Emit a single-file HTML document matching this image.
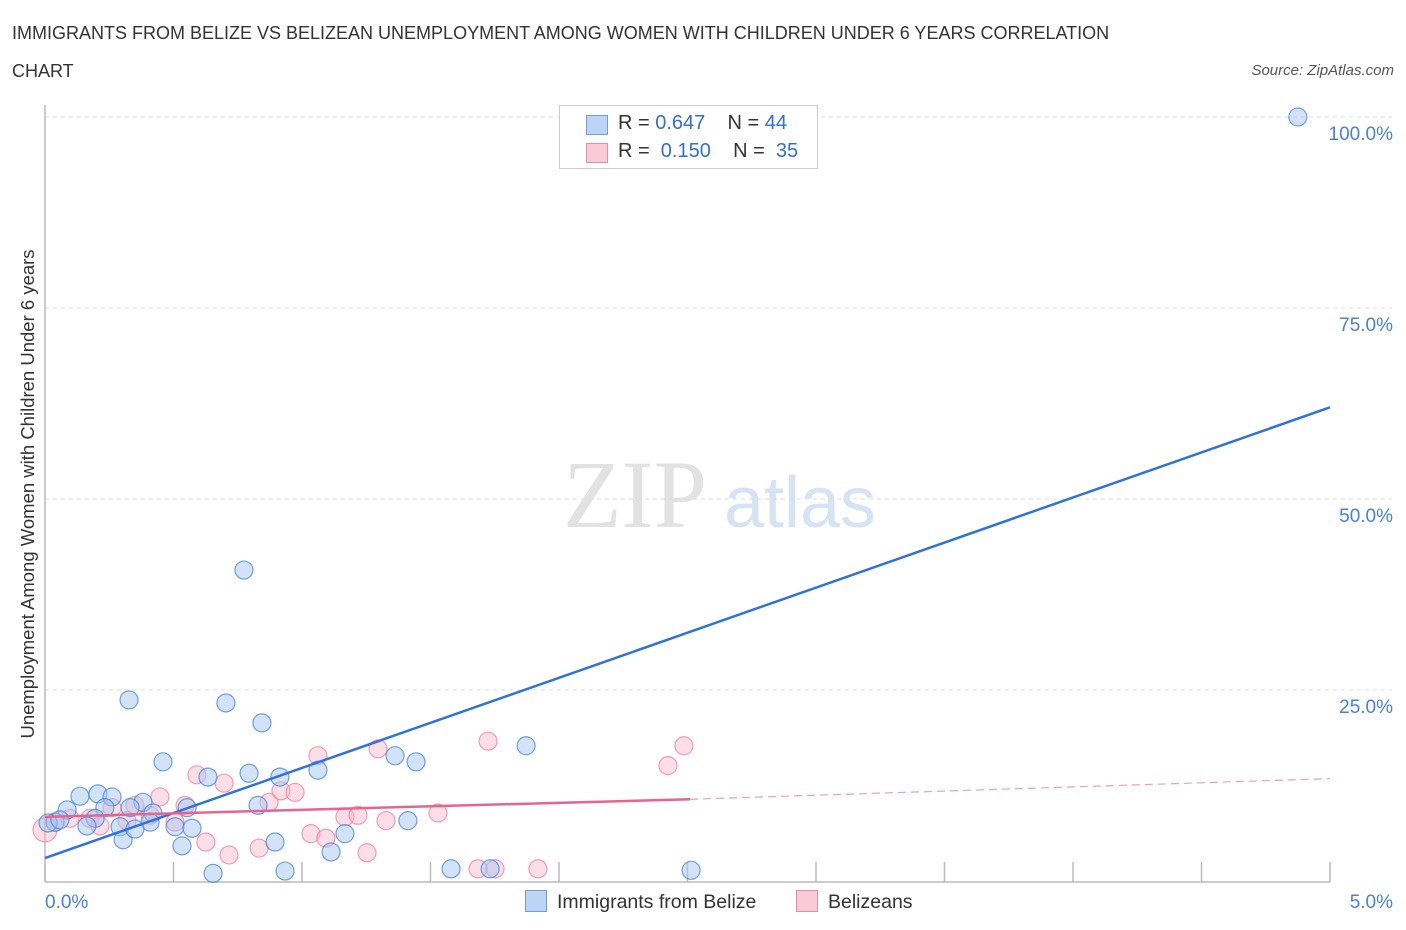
<!DOCTYPE html>
<html><head><meta charset="utf-8">
<style>
body{margin:0;background:#fff;font-family:"Liberation Sans",sans-serif;}
#wrap{position:relative;width:1406px;height:930px;overflow:hidden;}
.t{position:absolute;white-space:nowrap;}
</style></head><body>
<div id="wrap">
<div class="t" style="left:12px;top:14px;font-size:18px;color:#333;line-height:38px;width:1140px;white-space:normal">IMMIGRANTS FROM BELIZE VS BELIZEAN UNEMPLOYMENT AMONG WOMEN WITH CHILDREN UNDER 6 YEARS CORRELATION CHART</div>
<div class="t" style="right:12px;top:62px;font-size:15px;color:#555;font-style:italic">Source: ZipAtlas.com</div>
<svg id="svg" width="1406" height="930" style="position:absolute;left:0;top:0"></svg>
</div>
<script>
const xTicks=[0,0.5,1,1.5,2,2.5,3,3.5,4,4.5,5];
const yTicks=[25,50,75,100];
const yTickLabels=["25.0%","50.0%","75.0%","100.0%"];
const blueX=[4.875,0.774,0.327,0.704,0.844,0.459,0.634,0.794,0.914,1.062,1.362,1.444,1.872,0.206,0.261,0.381,0.086,0.136,0.233,0.420,0.331,0.553,0.829,0.195,0.039,0.163,0.292,0.409,0.506,0.572,1.167,1.412,0.304,0.533,0.895,1.113,0.350,0.654,0.934,1.580,1.732,2.514,0.012,0.058];
const blueY=[100,40.7,23.7,23.3,20.7,15.6,13.6,14.1,13.6,14.5,16.4,15.6,17.7,11.4,11.0,10.3,9.3,11.1,9.6,8.9,9.6,9.6,9.9,8.2,7.7,7.2,7.1,7.7,7.1,6.9,6.2,7.9,5.4,4.6,5.1,3.8,6.8,1.0,1.3,1.6,1.6,1.4,7.6,8.0];
const pinkX=[0,0.039,0.097,0.175,0.261,0.350,0.447,0.545,0.591,0.697,0.872,0.918,0.973,1.062,1.296,1.724,2.486,2.424,1.167,1.218,1.529,1.035,1.093,1.327,0.626,0.716,0.833,1.253,1.685,1.751,1.918,0.214,0.319,0.506,0.409];
const pinkY=[6.7,7.7,8.2,8.2,9.6,9.9,11.0,9.9,13.9,12.8,10.3,11.8,11.6,16.4,17.3,18.3,17.7,15.1,8.4,8.6,8.9,6.2,5.6,7.9,5.1,3.4,4.3,3.7,1.6,1.6,1.6,7.2,7.9,7.7,8.6];
const blueLine=[3.0,62.0];
const pinkLine=[8.4,10.7,13.4];
const pinkSolidEnd=2.51;

const X0=45,X1=1330,Y0=881,Y100=117;
const sx=v=>X0+(v/5)*(X1-X0);
const sy=v=>Y0-(v/100)*(Y0-Y100);
const svg=document.getElementById('svg');
const NS='http://www.w3.org/2000/svg';
function mk(tag,attrs,parent){const e=document.createElementNS(NS,tag);for(const k in attrs)e.setAttribute(k,attrs[k]);(parent||svg).appendChild(e);return e;}

let w=mk('text',{x:635,y:527,'font-size':96,'font-family':'Liberation Serif,serif',fill:'#e2e2e2','text-anchor':'middle'});
w.textContent='ZIP';


let w2=mk('text',{x:800,y:527,'font-size':72,'font-family':'Liberation Sans,sans-serif',fill:'#d6e3f5','text-anchor':'middle'});
w2.textContent='atlas';



yTicks.forEach((v,i)=>{
  const g=mk('line',{x1:X0,x2:1392,y1:sy(v),y2:sy(v),stroke:'#dddddd','stroke-dasharray':'4,4'});
  
  
  const t=mk('text',{x:1393,y:sy(v)+23,'font-size':19,fill:'#4a80d8','text-anchor':'end','font-family':'Liberation Sans,sans-serif'});
  t.textContent=yTickLabels[i];
  
  
});
let ax=mk('line',{x1:X0,x2:X0,y1:105,y2:882,stroke:'#bbb','stroke-width':1.5});


let bx=mk('line',{x1:X0,x2:X1,y1:882,y2:882,stroke:'#bbb','stroke-width':1.5});


xTicks.forEach(v=>{
  const l=mk('line',{x1:sx(v),x2:sx(v),y1:862,y2:882,stroke:'#bbb','stroke-width':1.5});
  
  
});
[["0.0%",45,'start'],["5.0%",1393,'end']].forEach(a=>{
  const t=mk('text',{x:a[1],y:908,'font-size':19,fill:'#4a80d8','text-anchor':a[2],'font-family':'Liberation Sans,sans-serif'});
  t.textContent=a[0];
  
  
});
let yt=mk('text',{x:0,y:0,'font-size':18.5,fill:'#333','text-anchor':'middle','font-family':'Liberation Sans,sans-serif',transform:'translate(34,494) rotate(-90)'});
yt.textContent='Unemployment Among Women with Children Under 6 years';



pinkX.forEach((x,i)=>{
  const c=mk('circle',{cx:sx(x),cy:sy(pinkY[i]),r:i===0?12:9,fill:'rgba(248,182,202,0.45)',stroke:'rgba(236,120,155,0.7)','stroke-width':1.2});
  
  
});
blueX.forEach((x,i)=>{
  const c=mk('circle',{cx:sx(x),cy:sy(blueY[i]),r:9,fill:'rgba(165,198,240,0.5)',stroke:'rgba(70,130,220,0.75)','stroke-width':1.2});
  
  
});
let bl=mk('line',{x1:sx(0),y1:sy(blueLine[0]),x2:sx(5),y2:sy(blueLine[1]),stroke:'#2f73d8','stroke-width':2.5});


let pl=mk('line',{x1:sx(0),y1:sy(pinkLine[0]),x2:sx(pinkSolidEnd),y2:sy(pinkLine[1]),stroke:'#e8648f','stroke-width':2.5});


let pd=mk('line',{x1:sx(pinkSolidEnd),y1:sy(pinkLine[1]),x2:sx(5),y2:sy(pinkLine[2]),stroke:'#e8a0b8','stroke-width':1.2,'stroke-dasharray':'8,5'});


</script>
<div class="t" style="left:559px;top:105px;width:257px;height:62px;border:1px solid #ccc;background:#fff;font-size:20px;color:#333">
  <div style="position:absolute;left:26px;top:9px;width:20px;height:18px;background:#bcd4f5;border:1px solid #6e9de0"></div>
  <div style="position:absolute;left:58px;top:6px">R = <span style="color:#2f6fd6">0.647</span>&nbsp;&nbsp;&nbsp; N = <span style="color:#2f6fd6">44</span></div>
  <div style="position:absolute;left:26px;top:37px;width:20px;height:18px;background:#f9cad8;border:1px solid #e88aa8"></div>
  <div style="position:absolute;left:58px;top:34px">R = &nbsp;<span style="color:#2f6fd6">0.150</span>&nbsp;&nbsp;&nbsp; N = &nbsp;<span style="color:#2f6fd6">35</span></div>
</div>
<div class="t" style="left:525px;top:890px;font-size:19.5px;color:#333">
  <span style="display:inline-block;width:20px;height:20px;background:#bcd4f5;border:1px solid #6e9de0;vertical-align:-4px;margin-right:10px"></span>Immigrants from Belize</div>
<div class="t" style="left:796px;top:890px;font-size:19.5px;color:#333">
  <span style="display:inline-block;width:20px;height:20px;background:#f9cad8;border:1px solid #e88aa8;vertical-align:-4px;margin-right:10px"></span>Belizeans</div>
</body></html>
